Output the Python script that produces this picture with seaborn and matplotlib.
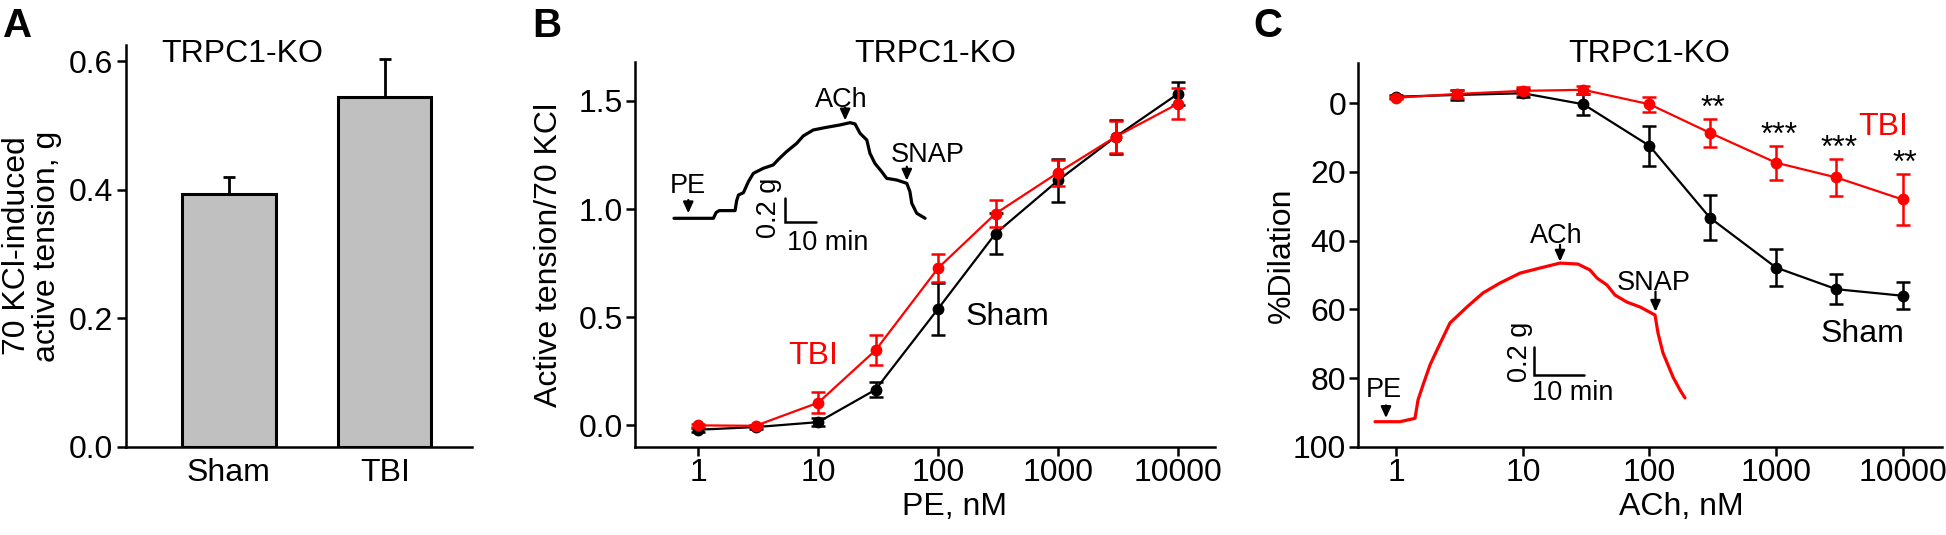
import numpy as np
import pandas as pd
import matplotlib
matplotlib.use("Agg")
import matplotlib.pyplot as plt
from matplotlib.ticker import NullLocator
import seaborn as sns

# ---------------- data ----------------
# Panel A
groups_a = ["Sham", "TBI"]
kcl_tension = [0.393, 0.544]
kcl_sem = [0.026, 0.060]

# Panel B / C concentrations
conc = [1, 3, 10, 30, 100, 300, 1000, 3000, 10000]
conc_ticks = [1, 10, 100, 1000, 10000]
conc_ticklabels = ["1", "10", "100", "1000", "10000"]

# Panel B (PE)
pe_sham = [-0.02, -0.008, 0.015, 0.165, 0.54, 0.887, 1.133, 1.334, 1.534]
pe_sham_sem = [0.01, 0.008, 0.02, 0.035, 0.12, 0.095, 0.10, 0.08, 0.055]
pe_tbi = [0.0, -0.002, 0.105, 0.347, 0.728, 0.979, 1.169, 1.334, 1.488]
pe_tbi_sem = [0.008, 0.006, 0.05, 0.07, 0.066, 0.063, 0.06, 0.073, 0.072]

# Panel C (ACh)
ach_sham = [-1.9, -2.4, -2.9, 0.3, 12.4, 33.3, 47.8, 54.1, 56.0]
ach_sham_sem = [0.5, 1.5, 1.2, 3.0, 5.8, 6.5, 5.3, 4.4, 4.0]
ach_tbi = [-1.6, -2.7, -3.6, -3.9, 0.3, 8.6, 17.3, 21.6, 28.0]
ach_tbi_sem = [0.5, 1.2, 1.0, 1.2, 2.2, 4.0, 5.0, 5.5, 7.4]
stars_idx = [5, 6, 7, 8]
stars_text = ["**", "***", "***", "**"]

# Inset traces (time in min, tension in g)
trace_b_min = [0, 12.7, 13.6, 14.6, 19.7, 20.2, 20.8, 22.4, 24.0, 25.6, 28.8, 32.0,
               33.7, 36.3, 39.6, 41.7, 44.9, 49.2, 53.5, 56.8, 58.4, 60.0, 62.2,
               63.2, 64.8, 67.0, 68.6, 71.8, 75.1, 76.1, 76.7, 78.3, 81.0]
trace_b_g = [0, 0, 0.05, 0.066, 0.066, 0.15, 0.2, 0.22, 0.315, 0.386, 0.429, 0.458,
             0.506, 0.572, 0.644, 0.707, 0.758, 0.781, 0.801, 0.821, 0.81, 0.73,
             0.672, 0.558, 0.472, 0.4, 0.343, 0.329, 0.3, 0.229, 0.129, 0.043, 0.0]
trace_c_min = [0, 5, 7.4, 8, 8.6, 9.6, 11, 12.4, 15, 18.4, 21.6, 25, 29, 33, 37,
               40.6, 43, 44.4, 46.4, 48, 50.4, 53, 56, 56.6, 57.6, 59.6, 61, 62]
trace_c_g = [0, 0, 0.019, 0.024, 0.153, 0.259, 0.401, 0.507, 0.698, 0.811, 0.91,
             0.98, 1.05, 1.086, 1.121, 1.114, 1.072, 1.015, 0.966, 0.895, 0.845,
             0.811, 0.754, 0.627, 0.486, 0.316, 0.224, 0.168]

# ---------------- style ----------------
sns.set_style("ticks")
plt.rcParams["font.family"] = ["Liberation Sans", "DejaVu Sans"]
FS = 23
SPW = 1.8
plt.rcParams.update({
    "axes.linewidth": SPW,
    "xtick.major.width": SPW, "ytick.major.width": SPW,
    "xtick.major.size": 6.5, "ytick.major.size": 6.5,
    "xtick.labelsize": FS, "ytick.labelsize": FS,
    "xtick.color": "black", "ytick.color": "black",
    "axes.edgecolor": "black", "text.color": "black", "axes.labelcolor": "black",
})

W, H = 1946, 535
fig = plt.figure(figsize=(W / 100, H / 100), dpi=100)


def px_axes(l, t, r, b):
    return fig.add_axes([l / W, 1 - b / H, (r - l) / W, (b - t) / H])


def ftext(x, y, s, **kw):
    fig.text(x / W, 1 - y / H, s, **kw)


axA = px_axes(126, 45, 472, 447)
axB = px_axes(635, 62, 1215, 447)
axC = px_axes(1358, 63, 1942, 447)

# ---------------- Panel A ----------------
dfA = pd.DataFrame({"group": groups_a, "value": kcl_tension})
sns.barplot(data=dfA, x="group", y="value", ax=axA, color="#c0c0c0",
            edgecolor="black", linewidth=2.2, width=0.6, errorbar=None, saturation=1)
axA.errorbar(range(len(groups_a)), kcl_tension,
             yerr=[np.zeros(len(groups_a)), kcl_sem], fmt="none", ecolor="black",
             elinewidth=2.0, capsize=4.5, capthick=2.0, zorder=1)
axA.set_xlim(-0.66, 1.56)
axA.set_ylim(0, 0.625)
axA.set_yticks([0, 0.2, 0.4, 0.6])
axA.set_yticklabels(["0.0", "0.2", "0.4", "0.6"])
axA.tick_params(axis="x", length=0, pad=8)
axA.tick_params(axis="y", pad=2.5)
axA.set_xlabel("")
axA.set_ylabel("70 KCl-induced\nactive tension, g", fontsize=FS, linespacing=1.0)
axA.yaxis.set_label_coords(-0.185, 0.5)
sns.despine(ax=axA)


# ---------------- Panel B / C helpers ----------------
def curve(ax, x, y, err, color):
    d = pd.DataFrame({"x": x, "y": y})
    sns.lineplot(data=d, x="x", y="y", ax=ax, color=color, marker="o",
                 markersize=8.5, markeredgewidth=0, linewidth=1.6, sort=False,
                 errorbar=None, legend=False)
    ax.errorbar(x, y, yerr=err, fmt="none", ecolor=color, elinewidth=1.8,
                capsize=5, capthick=1.8)


for ax in (axB, axC):
    ax.set_xscale("log")

curve(axB, conc, pe_sham, pe_sham_sem, "black")
curve(axB, conc, pe_tbi, pe_tbi_sem, "red")
curve(axC, conc, ach_sham, ach_sham_sem, "black")
curve(axC, conc, ach_tbi, ach_tbi_sem, "red")

for ax, lo, hi in ((axB, -0.527, 4.306), (axC, -0.304, 4.312)):
    ax.set_xlim(10 ** lo, 10 ** hi)
    ax.set_xticks(conc_ticks)
    ax.set_xticklabels(conc_ticklabels)
    ax.xaxis.set_minor_locator(NullLocator())
    ax.tick_params(axis="x", pad=1.5)
    ax.tick_params(axis="y", pad=2.0)
    sns.despine(ax=ax)

axB.set_ylim(-0.1, 1.68)
axB.set_yticks([0, 0.5, 1.0, 1.5])
axB.set_yticklabels(["0.0", "0.5", "1.0", "1.5"])
axB.set_xlabel("PE, nM", fontsize=FS)
axB.set_ylabel("Active tension/70 KCl", fontsize=FS)
axB.xaxis.set_label_coords(0.55, -0.117)
axB.yaxis.set_label_coords(-0.122, 0.5)

axC.set_ylim(100, -11.7)
axC.set_yticks([0, 20, 40, 60, 80, 100])
axC.set_xlabel("ACh, nM", fontsize=FS)
axC.set_ylabel("%Dilation", fontsize=FS)
axC.xaxis.set_label_coords(0.553, -0.117)
axC.yaxis.set_label_coords(-0.105, 0.5)

for i, s in zip(stars_idx, stars_text):
    axC.annotate(s, xy=(conc[i], ach_tbi[i] - ach_tbi_sem[i]), xytext=(2, 1.5),
                 textcoords="offset points", ha="center", va="baseline", fontsize=FS)

# ---------------- texts ----------------
for x, s in ((3, "A"), (532, "B"), (1253, "C")):
    ftext(x, 37, s, fontsize=29, fontweight="bold", ha="left", va="baseline")
for x in (242, 935, 1649.5):
    ftext(x, 61.7, "TRPC1-KO", fontsize=FS, ha="center", va="baseline")
ftext(788, 364.3, "TBI", fontsize=FS, color="red", ha="left", va="baseline")
ftext(966, 325, "Sham", fontsize=FS, ha="left", va="baseline")
ftext(1858, 135, "TBI", fontsize=FS, color="red", ha="left", va="baseline")
ftext(1821, 341.7, "Sham", fontsize=FS, ha="left", va="baseline")


# ---------------- insets ----------------
def inset(box, origin, ppm, ppg):
    x0, y0, x1, y1 = box
    ax = px_axes(x0, y0, x1, y1)
    ax.set_xlim((x0 - origin[0]) / ppm, (x1 - origin[0]) / ppm)
    ax.set_ylim((origin[1] - y1) / ppg, (origin[1] - y0) / ppg)
    ax.axis("off")
    return ax


def arrow(ax, x, y0, y1):
    ax.annotate("", xy=(x, y1), xytext=(x, y0),
                arrowprops=dict(arrowstyle="-|>,head_width=0.25,head_length=0.55",
                                color="black", lw=1.6, shrinkA=0, shrinkB=0,
                                mutation_scale=12))


IFS = 19.5

# Inset B
insB = inset((650, 85, 950, 265), (674, 218.3), 3.1, 116.5)
sns.lineplot(x=trace_b_min, y=trace_b_g, ax=insB, color="black", linewidth=2.3,
             sort=False, errorbar=None)
insB.text(4.4, 0.215, "PE", fontsize=IFS, ha="center", va="baseline")
arrow(insB, 4.6, 0.157, 0.043)
insB.text(54, 0.958, "ACh", fontsize=IFS, ha="center", va="baseline")
arrow(insB, 55.2, 0.95, 0.84)
insB.text(81.8, 0.486, "SNAP", fontsize=IFS, ha="center", va="baseline")
arrow(insB, 75.1, 0.443, 0.323)
insB.plot([35.8, 35.8, 45.8], [0.171, -0.029, -0.029], color="black", lw=1.8,
          solid_joinstyle="miter")
insB.text(30.8, 0.093, "0.2 g", fontsize=IFS, rotation=90, ha="center", va="center",
          rotation_mode="anchor")
insB.text(36.3, -0.272, "10 min", fontsize=IFS, ha="left", va="baseline")

# Inset C
insC = inset((1365, 215, 1720, 435), (1375, 421.7), 5.0, 141.5)
sns.lineplot(x=trace_c_min, y=trace_c_g, ax=insC, color="red", linewidth=2.3,
             sort=False, errorbar=None)
insC.text(1.8, 0.175, "PE", fontsize=IFS, ha="center", va="baseline")
arrow(insC, 2.2, 0.115, 0.026)
insC.text(36.2, 1.263, "ACh", fontsize=IFS, ha="center", va="baseline")
arrow(insC, 37.0, 1.25, 1.131)
insC.text(55.8, 0.931, "SNAP", fontsize=IFS, ha="center", va="baseline")
arrow(insC, 56.1, 0.92, 0.777)
insC.plot([31.7, 31.7, 41.7], [0.53, 0.33, 0.33], color="black", lw=1.8,
          solid_joinstyle="miter")
insC.text(29.0, 0.495, "0.2 g", fontsize=IFS, rotation=90, ha="center", va="center",
          rotation_mode="anchor")
insC.text(31.3, 0.153, "10 min", fontsize=IFS, ha="left", va="baseline")

fig.savefig("out.png", dpi=100)
